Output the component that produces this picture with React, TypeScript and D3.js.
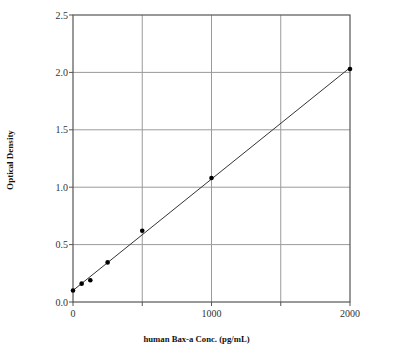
import React from "react";
import * as d3 from "d3";

const concentrations = [0, 62.5, 125, 250, 500, 1000, 2000];
const opticalDensity = [0.1, 0.16, 0.19, 0.345, 0.62, 1.08, 2.03];
const xTicks = [0, 500, 1000, 1500, 2000];
const xTickLabels = ["0", "", "1000", "", "2000"];
const yTicks = [0, 0.5, 1.0, 1.5, 2.0, 2.5];
const xTitle = "human Bax-a Conc. (pg/mL)";
const yTitle = "Optical Density";

export default function App() {
  const W = 400, H = 360;
  const L = 73, R = 350, T = 15, B = 302;
  const x = d3.scaleLinear().domain([0, 2000]).range([L, R]);
  const y = d3.scaleLinear().domain([0, 2.5]).range([B, T]);

  const mx = d3.mean(concentrations)!;
  const my = d3.mean(opticalDensity)!;
  let sxy = 0, sxx = 0;
  concentrations.forEach((c, i) => {
    sxy += (c - mx) * (opticalDensity[i] - my);
    sxx += (c - mx) * (c - mx);
  });
  const slope = sxy / sxx;
  const intercept = my - slope * mx;
  const fit = [0, 2000].map((c) => [c, intercept + slope * c] as [number, number]);
  const line = d3.line<[number, number]>().x((d) => x(d[0])).y((d) => y(d[1]));

  const font = "'Liberation Serif', 'Times New Roman', serif";
  const grid = "#9a9a9a";
  return (
    <svg width={W} height={H} style={{ position: "absolute", left: 0, top: 0, background: "#fff" }}>
      <rect x={0} y={0} width={W} height={H} fill="#fff" />
      {xTicks.slice(1, -1).map((t) => (
        <line key={"gx" + t} x1={x(t)} x2={x(t)} y1={T} y2={B} stroke={grid} strokeWidth={1} />
      ))}
      {yTicks.slice(1, -1).map((t) => (
        <line key={"gy" + t} x1={L} x2={R} y1={y(t)} y2={y(t)} stroke={grid} strokeWidth={1} />
      ))}
      <rect x={L} y={T} width={R - L} height={B - T} fill="none" stroke="#555" strokeWidth={1.2} />
      {xTicks.map((t, i) => (
        <g key={"xt" + t}>
          <line x1={x(t)} x2={x(t)} y1={B} y2={B + 4} stroke="#555" />
          {xTickLabels[i] && (
            <text x={x(t)} y={317} textAnchor="middle" fontFamily={font} fontSize={10} fill="#333">
              {xTickLabels[i]}
            </text>
          )}
        </g>
      ))}
      {yTicks.map((t) => (
        <g key={"yt" + t}>
          <line x1={L - 4} x2={L} y1={y(t)} y2={y(t)} stroke="#555" />
          <text x={68} y={y(t) + 3.5} textAnchor="end" fontFamily={font} fontSize={10} fill="#333">
            {t.toFixed(1)}
          </text>
        </g>
      ))}
      <path d={line(fit)!} fill="none" stroke="#333" strokeWidth={1} />
      {concentrations.map((c, i) => (
        <circle key={"p" + i} cx={x(c)} cy={y(opticalDensity[i])} r={2.3} fill="#000" />
      ))}
      <text x={196.5} y={342} textAnchor="middle" fontFamily={font} fontSize={8.7} fontWeight="bold" fill="#111">
        {xTitle}
      </text>
      <text transform="translate(13,160) rotate(-90)" textAnchor="middle" fontFamily={font} fontSize={9} fontWeight="bold" fill="#111">
        {yTitle}
      </text>
    </svg>
  );
}
